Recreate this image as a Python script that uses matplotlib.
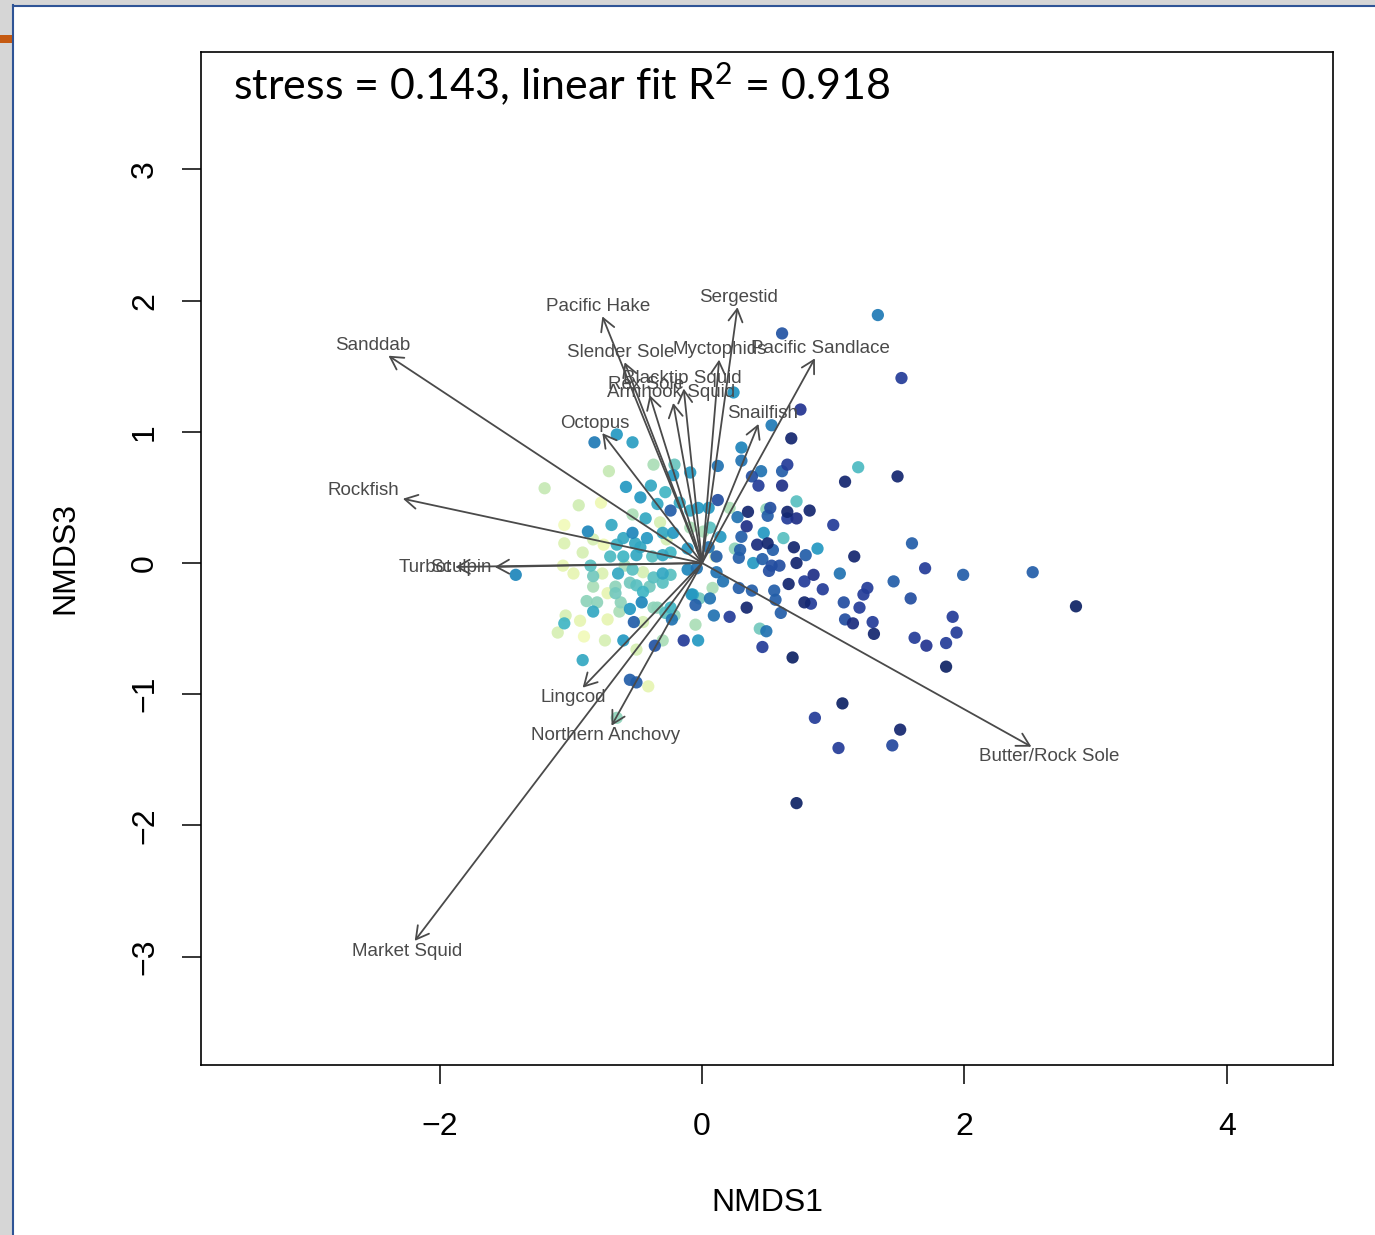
import numpy as np
import matplotlib
matplotlib.use("Agg")
import matplotlib.pyplot as plt
from matplotlib.patches import Rectangle

# site scores (NMDS1, NMDS3) and colour value for each site
site_x = [
    1.34, 0.61, 1.52, 0.24, 0.75, 0.53, 0.68, 0.30, 1.19, 1.49, 1.09, 0.30, 0.12, 0.65, 0.61,
    0.45, 0.38, 0.43, 0.61, 0.12, 0.72, 0.82, 1.00, 0.65, 0.72, 0.65, 0.35, 0.27, 0.34, 0.49,
    0.52, 0.50, 0.21, 0.06, 0.01, 0.47, 0.62, 0.30, 0.14, 0.42, 0.50, 0.54, 0.70, 0.88, 0.79,
    0.29, 0.25, 0.10, 1.16, 0.46, 0.39, 0.28, 0.53, 0.59, 0.72, 0.51, 1.05, 0.85, 0.78, 0.66,
    0.92, 0.16, 0.08, 0.28, 0.38, 0.55, -0.02, 0.06, -0.07, -0.05, 0.34, 0.56, 0.78, 0.83, 1.08,
    1.23, 1.20, 0.09, 0.21, 0.60, 1.60, 1.70, 1.99, 2.52, 2.85, 1.46, 1.26, 1.59, 1.09, 1.15,
    1.30, 1.31, 1.91, 1.94, 1.62, 1.71, 1.86, 1.86, 0.69, 0.46, 0.49, 0.44, 1.07, 0.86, 1.04,
    1.51, 1.45, 0.72,
    -0.82, -0.65, -0.53, -1.20, -0.71, -0.37, -0.21, -0.22, -0.09, -0.39, -0.58, -0.47, -0.28,
    -0.17, -0.94, -0.77, -0.34, -0.24, -0.09, -0.03, 0.05, -0.53, -0.43, -0.32, -1.05, -0.87,
    -0.69, -0.53, -0.42, -0.30, -0.22, -0.09, -1.05, -0.91, -0.83, -0.75, -0.70, -0.65, -0.60,
    -0.47, -0.27, -0.11, 0.05, -0.50, -0.38, -0.30, -0.24, -1.06, -0.85, -0.60, -0.59, -0.98,
    -0.83, -0.76, -0.64, -0.53, -0.45, -0.37, -0.30, -0.24, -0.11, -0.04, -1.42, -0.83, -0.72,
    -0.66, -0.55, -0.50, -0.45, -0.30, -0.88, -0.80, -0.62, -0.46, -0.37, -0.24, -0.08, -1.04,
    -1.05, -0.93, -0.83, -0.72, -0.63, -0.55, -0.52, -0.45, -0.34, -0.23, -0.21, -1.10, -0.90,
    -0.74, -0.60, -0.36, -0.30, -0.14, -0.03, -0.05, -0.50, -0.91, -0.55, -0.50, -0.41, -0.65,
    0.11, 0.11, -0.28, -0.51, -0.66, -0.40,
]
site_y = [
    1.89, 1.75, 1.41, 1.30, 1.17, 1.05, 0.95, 0.88, 0.73, 0.66, 0.62, 0.78, 0.74, 0.75, 0.70,
    0.70, 0.66, 0.59, 0.59, 0.48, 0.47, 0.40, 0.29, 0.39, 0.34, 0.34, 0.39, 0.35, 0.28, 0.41,
    0.42, 0.36, 0.42, 0.27, 0.24, 0.23, 0.19, 0.20, 0.20, 0.14, 0.15, 0.10, 0.12, 0.11, 0.06,
    0.10, 0.11, 0.05, 0.05, 0.03, 0.00, 0.04, -0.02, -0.02, 0.00, -0.06, -0.08, -0.09, -0.14, -0.16,
    -0.20, -0.14, -0.19, -0.19, -0.21, -0.21, -0.27, -0.27, -0.24, -0.32, -0.34, -0.28, -0.30, -0.31, -0.30,
    -0.24, -0.34, -0.40, -0.41, -0.38, 0.15, -0.04, -0.09, -0.07, -0.33, -0.14, -0.19, -0.27, -0.43, -0.46,
    -0.45, -0.54, -0.41, -0.53, -0.57, -0.63, -0.61, -0.79, -0.72, -0.64, -0.52, -0.50, -1.07, -1.18, -1.41,
    -1.27, -1.39, -1.83,
    0.92, 0.98, 0.92, 0.57, 0.70, 0.75, 0.75, 0.67, 0.69, 0.59, 0.58, 0.50, 0.54,
    0.46, 0.44, 0.46, 0.45, 0.40, 0.40, 0.42, 0.42, 0.37, 0.34, 0.31, 0.29, 0.24,
    0.29, 0.23, 0.19, 0.23, 0.23, 0.27, 0.15, 0.08, 0.18, 0.14, 0.05, 0.14, 0.19,
    0.12, 0.18, 0.11, 0.12, 0.06, 0.05, 0.06, 0.08, -0.02, -0.02, 0.05, -0.02, -0.08,
    -0.10, -0.08, -0.08, -0.05, -0.07, -0.11, -0.08, -0.09, -0.05, -0.04, -0.09, -0.18, -0.23,
    -0.18, -0.15, -0.17, -0.22, -0.15, -0.29, -0.30, -0.30, -0.30, -0.34, -0.34, -0.24, -0.40,
    -0.46, -0.44, -0.37, -0.43, -0.37, -0.35, -0.45, -0.45, -0.34, -0.43, -0.40, -0.53, -0.56,
    -0.59, -0.59, -0.63, -0.59, -0.59, -0.59, -0.47, -0.66, -0.74, -0.89, -0.91, -0.94, -1.18,
    -0.07, 0.05, -0.38, 0.15, -0.23, -0.18,
]
site_col = [
    0.68, 0.78, 0.85, 0.62, 0.88, 0.68, 0.95, 0.66, 0.48, 0.95, 0.95, 0.70, 0.70, 0.85, 0.75,
    0.70, 0.80, 0.85, 0.90, 0.80, 0.45, 0.95, 0.85, 0.95, 0.90, 0.85, 0.95, 0.70, 0.90, 0.35,
    0.80, 0.75, 0.30, 0.45, 0.30, 0.60, 0.45, 0.75, 0.60, 0.92, 0.95, 0.75, 0.95, 0.60, 0.75,
    0.75, 0.35, 0.10, 0.95, 0.75, 0.60, 0.75, 0.80, 0.80, 0.95, 0.80, 0.70, 0.90, 0.85, 0.95,
    0.85, 0.70, 0.30, 0.75, 0.75, 0.75, 0.40, 0.70, 0.55, 0.75, 0.95, 0.75, 0.95, 0.85, 0.80,
    0.85, 0.85, 0.70, 0.85, 0.75, 0.75, 0.85, 0.75, 0.75, 0.97, 0.75, 0.85, 0.80, 0.80, 0.92,
    0.85, 0.95, 0.85, 0.85, 0.85, 0.88, 0.85, 0.97, 0.97, 0.85, 0.70, 0.40, 0.97, 0.85, 0.85,
    0.95, 0.82, 0.97,
    0.68, 0.60, 0.58, 0.25, 0.25, 0.30, 0.42, 0.60, 0.60, 0.55, 0.60, 0.60, 0.50,
    0.55, 0.22, 0.12, 0.55, 0.75, 0.55, 0.60, 0.60, 0.30, 0.55, 0.20, 0.10, 0.65,
    0.55, 0.65, 0.60, 0.55, 0.60, 0.30, 0.18, 0.20, 0.20, 0.12, 0.48, 0.52, 0.55,
    0.55, 0.20, 0.60, 0.70, 0.55, 0.45, 0.55, 0.50, 0.15, 0.45, 0.50, 0.30, 0.15,
    0.40, 0.18, 0.55, 0.45, 0.20, 0.45, 0.55, 0.45, 0.65, 0.70, 0.65, 0.30, 0.15,
    0.35, 0.40, 0.45, 0.50, 0.45, 0.35, 0.35, 0.35, 0.65, 0.35, 0.50, 0.60, 0.20,
    0.50, 0.15, 0.55, 0.15, 0.30, 0.60, 0.75, 0.20, 0.35, 0.70, 0.35, 0.20, 0.10,
    0.20, 0.60, 0.78, 0.30, 0.85, 0.60, 0.30, 0.20, 0.55, 0.75, 0.75, 0.15, 0.35,
    0.70, 0.75, 0.45, 0.55, 0.40, 0.40,
]

# fitted species vectors
species = ["Sanddab", "Pacific Hake", "Sergestid", "Slender Sole", "Myctophids",
           "Pacific Sandlace", "Rex Sole", "Blacktip Squid", "Armhook Squid", "Snailfish",
           "Octopus", "Rockfish", "Turbot", "Sculpin", "Lingcod", "Northern Anchovy",
           "Market Squid", "Butter/Rock Sole"]
vec_x = [-2.39, -0.76, 0.27, -0.59, 0.13, 0.86, -0.40, -0.14, -0.22, 0.43,
         -0.76, -2.28, -1.88, -1.58, -0.91, -0.69, -2.19, 2.51]
vec_y = [1.58, 1.88, 1.95, 1.53, 1.55, 1.56, 1.28, 1.33, 1.22, 1.06,
         0.99, 0.49, -0.03, -0.03, -0.95, -1.24, -2.88, -1.40]

x_ticks = [-2, 0, 2, 4]
y_ticks = [-3, -2, -1, 0, 1, 2, 3]

W, H = 1375, 1235
plt.rcParams['font.family'] = ['Liberation Sans', 'DejaVu Sans']
plt.rcParams['mathtext.fontset'] = 'custom'
plt.rcParams['mathtext.rm'] = 'Lato'
plt.rcParams['mathtext.it'] = 'Lato:italic'
fig = plt.figure(figsize=(W / 100, H / 100), dpi=100)

# slide frame around the plot
fig.add_artist(Rectangle((0, 1 - 5 / H), 1, 5 / H, transform=fig.transFigure,
                         color="#d6d6d6", lw=0))
fig.add_artist(Rectangle((0, 0), 12 / W, 1, transform=fig.transFigure,
                         color="#d6d6d6", lw=0))
fig.add_artist(Rectangle((0, 1 - 43 / H), 12 / W, 8 / H, transform=fig.transFigure,
                         color="#c55a11", lw=0))
fig.add_artist(plt.Line2D([12.5 / W, 12.5 / W], [0, 1 - 5 / H], transform=fig.transFigure,
                          color="#2f5496", lw=1.5))
fig.add_artist(plt.Line2D([12.5 / W, 1], [1 - 5.5 / H, 1 - 5.5 / H], transform=fig.transFigure,
                          color="#2f5496", lw=1.5))

ax = fig.add_axes([201 / W, 1 - 1065 / H, (1333 - 201) / W, (1065 - 52) / H])
ax.set_xlim(-3.819, 4.809)
ax.set_ylim(-3.826, 3.895)

order = np.argsort(site_col, kind="stable")
ax.scatter(np.array(site_x)[order], np.array(site_y)[order], c=np.array(site_col)[order],
           cmap="YlGnBu", vmin=0, vmax=1, s=78, edgecolors="none", alpha=0.92, zorder=2)

arrow_col = "#4a4a4a"
label_size = 13.5
renderer = fig.canvas.get_renderer()
x0, y0 = ax.transData.transform((0, 0))
cap = 0.72 * label_size * fig.dpi / 72

for name, vx, vy in zip(species, vec_x, vec_y):
    ax.annotate("", xy=(vx, vy), xytext=(0, 0),
                arrowprops=dict(arrowstyle="->,head_length=0.5,head_width=0.28",
                                color=arrow_col, lw=1.3, shrinkA=0, shrinkB=0,
                                mutation_scale=18), zorder=3)
    t = ax.annotate(name, xy=(vx, vy), xytext=(0, 0), textcoords="offset pixels",
                    ha="center", va="center", fontsize=label_size, color=arrow_col,
                    zorder=4)
    # push the label out along the arrow so its box just clears the tip
    w = t.get_window_extent(renderer).width
    px, py = ax.transData.transform((vx, vy))
    dx, dy = px - x0, py - y0
    b = dy / dx
    ox = np.sign(dx) * (w / 2 + cap / 4)
    oy = 0.75 * cap * np.sign(dy)
    move = oy / b
    if abs(move) <= abs(ox):
        ox = move
    else:
        oy = b * ox
    t.xyann = (ox, oy)

ax.set_xticks(x_ticks)
ax.set_yticks(y_ticks)
ax.tick_params(axis="both", direction="out", length=13.5, width=1.1, labelsize=23,
               color="black")
ax.tick_params(axis="x", pad=20)
ax.tick_params(axis="y", pad=16, labelrotation=90)
for lab in ax.get_yticklabels():
    lab.set_va("center")
for sp in ax.spines.values():
    sp.set_linewidth(1.2)

fig.text(767 / W, 1 - 1203 / H, "NMDS1", ha="center", va="center", fontsize=23)
fig.text(65 / W, 1 - 558 / H, "NMDS3", ha="center", va="center", fontsize=23, rotation=90)

fig.text(233 / W, 1 - 100 / H, r"stress = 0.143, linear fit R$^{2}$ = 0.918",
         ha="left", va="baseline", fontsize=31, family=["Lato", "DejaVu Sans"])

fig.savefig("out.png", dpi=100)
